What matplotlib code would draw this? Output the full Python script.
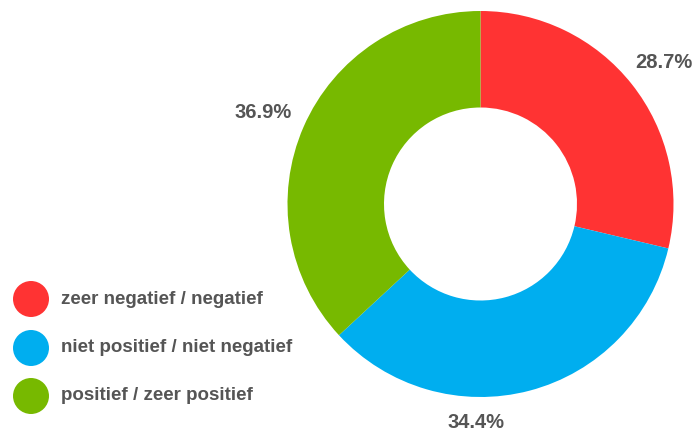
import matplotlib.pyplot as plt

# data
categories = ['zeer negatief / negatief', 'niet positief / niet negatief', 'positief / zeer positief']
shares = [28.7, 34.4, 36.9]
colors = ['#FF3333', '#00AEEF', '#77B900']

W, H = 695, 432
fig = plt.figure(figsize=(W / 100, H / 100), dpi=100)
ax = fig.add_axes([0, 0, 1, 1])

# donut, placed in pixel space (y up)
cx, cy, r = 480.5, H - 204, 193
ax.pie(shares, colors=colors, startangle=90, counterclock=False,
       center=(cx, cy), radius=r, wedgeprops=dict(width=r * 0.5, linewidth=0))

ax.set_xlim(0, W)
ax.set_ylim(0, H)
ax.set_aspect('equal')
ax.axis('off')

txt = '#555555'
font = 'Liberation Sans'

# percentage labels
label_pos = [(664, 62), (476, 423), (263, 113)]
for (x, y), s in zip(label_pos, shares):
    ax.text(x, H - y, f'{s:.1f}%', ha='center', va='center', fontsize=14.5,
            fontweight='bold', color=txt, family=font)

# legend
legend_y = [299, 348, 396]
for y, c, name in zip(legend_y, colors, categories):
    ax.add_patch(plt.Circle((31, H - y), 18, color=c, lw=0))
    ax.text(61, H - y, name, ha='left', va='center', fontsize=13.5,
            fontweight='bold', color=txt, family=font)

fig.savefig('out.png', dpi=100)
